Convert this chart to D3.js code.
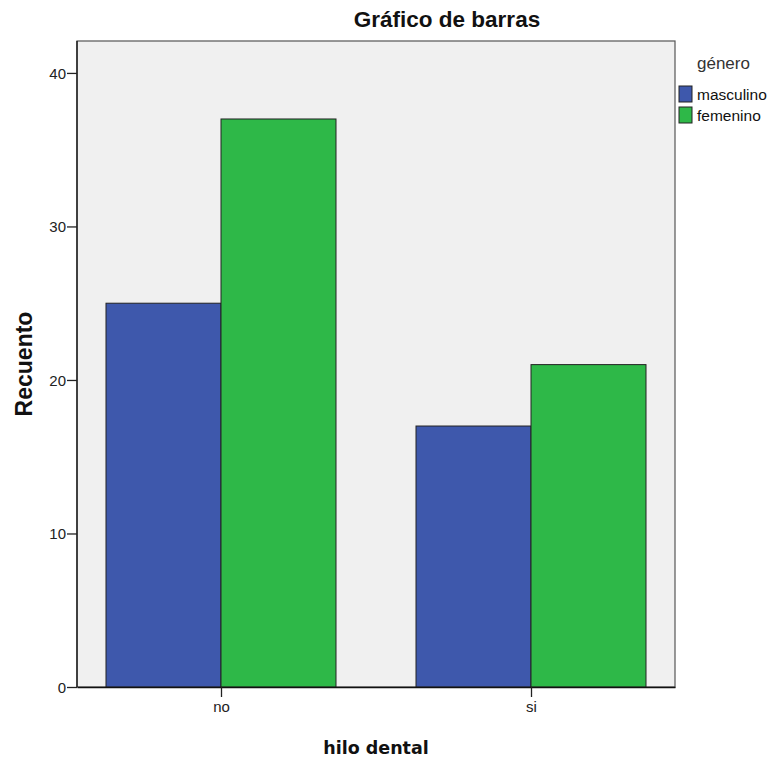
<!DOCTYPE html>
<html><head><meta charset="utf-8">
<script src="https://cdn.jsdelivr.net/npm/d3@7"></script>
<style>body{margin:0;background:#fff}svg{display:block}text{font-family:"Liberation Sans",Arial,sans-serif}text.xt{font-family:"DejaVu Sans",sans-serif}</style>
</head><body>
<svg id="c" width="770" height="760"></svg>
<script>
const categories = ["no", "si"];
const seriesNames = ["masculino", "femenino"];
const masculino = [25, 17];
const femenino = [37, 21];
const yTicks = [0, 10, 20, 30, 40];
const colors = ["#3E58AC", "#2EB848"];

const svg = d3.select("#c");
const L = 77, R = 675, T = 41, B = 687;
const y = d3.scaleLinear().domain([0, 42.08]).range([B, T]);
const x0 = d3.scalePoint().domain(categories).range([L, R]).padding(0.4645);
const x1 = d3.scaleBand().domain(seriesNames).range([-115, 115]).padding(0);
const color = d3.scaleOrdinal().domain(seriesNames).range(colors);

svg.append("rect").attr("x", L).attr("y", T).attr("width", R - L).attr("height", B - T)
  .attr("fill", "#F0F0F0").attr("stroke", "#555").attr("stroke-width", 1.2);

const data = categories.map((c, i) => ({cat: c, vals: [masculino[i], femenino[i]]}));
const g = svg.append("g");
data.forEach(d => {
  d.vals.forEach((v, j) => {
    const s = seriesNames[j];
    g.append("rect")
      .attr("x", x0(d.cat) + x1(s))
      .attr("y", y(v))
      .attr("width", x1.bandwidth())
      .attr("height", y(0) - y(v))
      .attr("fill", color(s)).attr("stroke", "#222").attr("stroke-width", 1);
  });
});

// axes
const ya = svg.append("g").attr("transform", `translate(${L},0)`)
  .call(d3.axisLeft(y).tickValues(yTicks).tickSize(10).tickSizeOuter(0).tickPadding(1));
ya.select(".domain").attr("stroke", "#111").attr("stroke-width", 1.3).attr("d", `M0,${B}V${T}`);
ya.selectAll(".tick line").attr("stroke", "#222").attr("stroke-width", 1.3);
ya.selectAll(".tick text").attr("font-size", 15).attr("fill", "#222").attr("dy", "0.36em");

const xa = svg.append("g").attr("transform", `translate(0,${B})`)
  .call(d3.axisBottom(x0).tickSize(10).tickSizeOuter(0).tickPadding(4));
xa.select(".domain").attr("stroke", "#111").attr("stroke-width", 1.3);
xa.selectAll(".tick line").attr("stroke", "#222").attr("stroke-width", 1.3);
xa.selectAll(".tick text").attr("font-size", 15).attr("fill", "#222");

// titles
svg.append("text").attr("x", 447).attr("y", 27).attr("text-anchor", "middle")
  .attr("font-size", 22.5).attr("font-weight", "bold").attr("fill", "#111").text("Gráfico de barras");
svg.append("text").attr("transform", "translate(32,364) rotate(-90)").attr("text-anchor", "middle")
  .attr("font-size", 23).attr("font-weight", "bold").attr("fill", "#111").text("Recuento");
svg.append("text").attr("class", "xt").attr("x", 376).attr("y", 754).attr("text-anchor", "middle")
  .attr("font-size", 17.5).attr("font-weight", "bold")
  .attr("fill", "#111").text("hilo dental");

// legend
const lg = svg.append("g");
lg.append("text").attr("x", 697).attr("y", 69).attr("font-size", 17).attr("fill", "#333").text("género");
seriesNames.forEach((s, i) => {
  lg.append("rect").attr("x", 679).attr("y", 86 + i * 21).attr("width", 13).attr("height", 16)
    .attr("fill", color(s)).attr("stroke", "#222").attr("stroke-width", 1);
  lg.append("text").attr("x", 697).attr("y", 100 + i * 21).attr("font-size", 15.5).attr("fill", "#111").text(s);
});
</script>
</body></html>
